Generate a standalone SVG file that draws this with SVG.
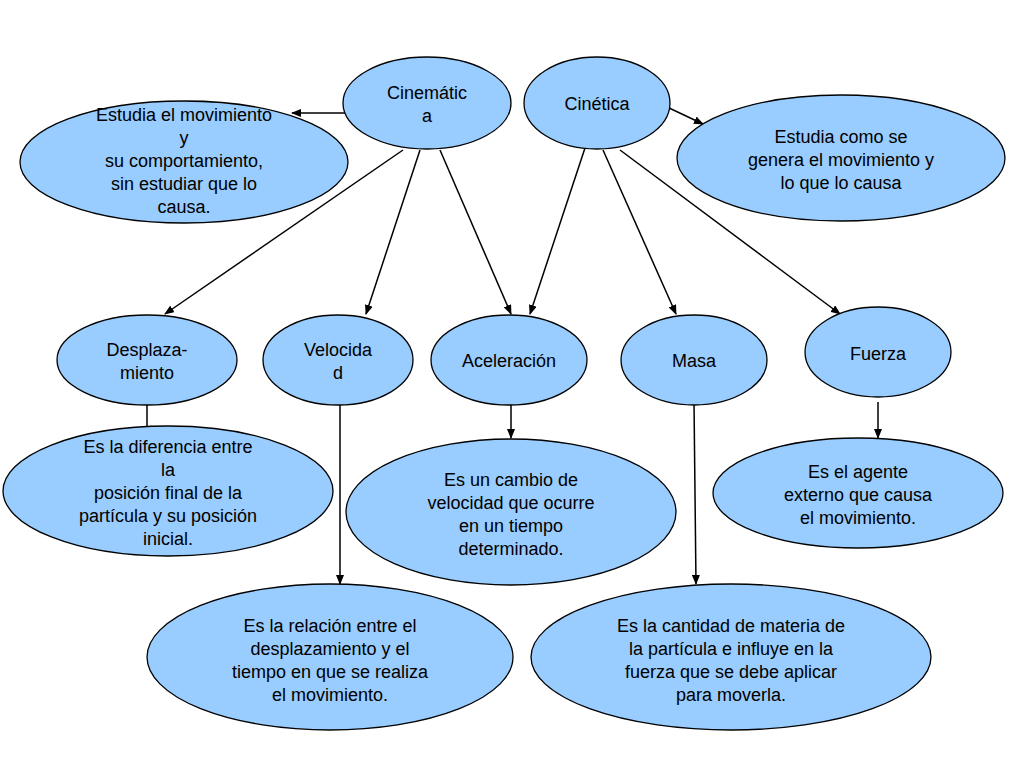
<svg xmlns="http://www.w3.org/2000/svg" width="1024" height="768" viewBox="0 0 1024 768">
<style>
ellipse{fill:#99CCFF;stroke:#000;stroke-width:1.3}
text{font-family:"Liberation Sans",Arial,sans-serif;font-size:18px;text-anchor:middle;fill:#000}
.c line{stroke:#000;stroke-width:1.5;marker-end:url(#a)}
</style>
<defs><marker id="a" markerWidth="10" markerHeight="8" refX="9" refY="4" orient="auto" markerUnits="userSpaceOnUse"><path d="M0,0L10,4L0,8z" fill="#000"/></marker></defs>
<rect width="1024" height="768" fill="#fff"/>
<g class="c">
<line x1="350" y1="113" x2="292" y2="113"/>
<line x1="667" y1="107" x2="703" y2="124"/>
<line x1="403" y1="150" x2="165" y2="314"/>
<line x1="420" y1="150" x2="366" y2="314"/>
<line x1="440" y1="150" x2="511" y2="314"/>
<line x1="585" y1="148" x2="530" y2="314"/>
<line x1="603" y1="150" x2="676" y2="314"/>
<line x1="620" y1="150" x2="840" y2="314"/>
<line x1="147" y1="404" x2="147" y2="438"/>
<line x1="340" y1="402" x2="340" y2="584"/>
<line x1="511" y1="402" x2="511" y2="438"/>
<line x1="694" y1="402" x2="696" y2="584"/>
<line x1="878" y1="402" x2="878" y2="438"/>
</g>
<g id="cinematica"><ellipse cx="427" cy="103" rx="84" ry="46"/><text x="427" y="99">Cinemátic</text><text x="427" y="122">a</text></g>
<g id="cinetica"><ellipse cx="597" cy="103" rx="73" ry="46"/><text x="597" y="110">Cinética</text></g>
<g id="estudia1"><ellipse cx="184" cy="162" rx="164" ry="61"/><text x="184" y="121">Estudia el movimiento</text><text x="184" y="144">y</text><text x="184" y="167">su comportamiento,</text><text x="184" y="190">sin estudiar que lo</text><text x="184" y="213">causa.</text></g>
<g id="estudia2"><ellipse cx="841" cy="158" rx="164" ry="63"/><text x="841" y="143">Estudia como se</text><text x="841" y="166">genera el movimiento y</text><text x="841" y="189">lo que lo causa</text></g>
<g id="desplaza"><ellipse cx="147" cy="360" rx="90" ry="45"/><text x="147" y="356">Desplaza-</text><text x="147" y="379">miento</text></g>
<g id="velocidad"><ellipse cx="338" cy="360" rx="75" ry="45"/><text x="338" y="356">Velocida</text><text x="338" y="379">d</text></g>
<g id="aceleracion"><ellipse cx="509" cy="360" rx="78" ry="45"/><text x="509" y="367">Aceleración</text></g>
<g id="masa"><ellipse cx="694" cy="360" rx="73" ry="45"/><text x="694" y="367">Masa</text></g>
<g id="fuerza"><ellipse cx="878" cy="352" rx="73" ry="45"/><text x="878" y="360">Fuerza</text></g>
<g id="dif"><ellipse cx="168" cy="491" rx="165" ry="65"/><text x="168" y="453">Es la diferencia entre</text><text x="168" y="476">la</text><text x="168" y="499">posición final de la</text><text x="168" y="522">partícula y su posición</text><text x="168" y="545">inicial.</text></g>
<g id="cambio"><ellipse cx="511" cy="512" rx="165" ry="73"/><text x="511" y="486">Es un cambio de</text><text x="511" y="509">velocidad que ocurre</text><text x="511" y="532">en un tiempo</text><text x="511" y="555">determinado.</text></g>
<g id="agente"><ellipse cx="858" cy="493" rx="145" ry="55"/><text x="858" y="478">Es el agente</text><text x="858" y="501">externo que causa</text><text x="858" y="524">el movimiento.</text></g>
<g id="relacion"><ellipse cx="330" cy="657" rx="183" ry="73"/><text x="330" y="632">Es la relación entre el</text><text x="330" y="655">desplazamiento y el</text><text x="330" y="678">tiempo en que se realiza</text><text x="330" y="701">el movimiento.</text></g>
<g id="cantidad"><ellipse cx="731" cy="657" rx="200" ry="73"/><text x="731" y="632">Es la cantidad de materia de</text><text x="731" y="655">la partícula e influye en la</text><text x="731" y="678">fuerza que se debe aplicar</text><text x="731" y="701">para moverla.</text></g>
</svg>
